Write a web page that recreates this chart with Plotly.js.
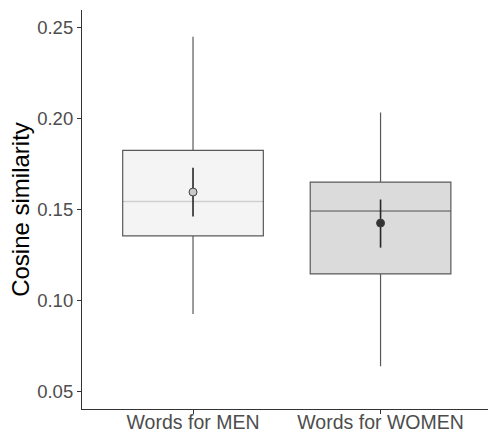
<!DOCTYPE html>
<html>
<head>
<meta charset="utf-8">
<script src="https://cdn.plot.ly/plotly-3.0.1.min.js"></script>
<style>html,body{margin:0;padding:0;background:#fff}#chart{width:488px;height:430px}</style>
</head>
<body>
<div id="chart"></div>
<script>
const categories = ["Words for MEN", "Words for WOMEN"];
const lowerWhisker = [0.0924, 0.0637];
const q1 = [0.1355, 0.1145];
const median = [0.1544, 0.1491];
const q3 = [0.1826, 0.1651];
const upperWhisker = [0.2452, 0.2034];
const meanVal = [0.1596, 0.1425];
const ciLow = [0.1461, 0.1290];
const ciHigh = [0.1730, 0.1555];
const yTicks = [0.05, 0.10, 0.15, 0.20, 0.25];

const boxFill = ["#f4f4f4", "#dbdbdb"];
const medianColor = ["#cfcfcf", "#9a9a9a"];
const meanFill = ["#c9c9c9", "#333333"];
const boxWidth = 0.75;

const traces = [];
categories.forEach((c, i) => {
  traces.push({
    type: "box", x: [i], q1: [q1[i]], median: [median[i]], q3: [q3[i]],
    lowerfence: [lowerWhisker[i]], upperfence: [upperWhisker[i]],
    width: boxWidth, whiskerwidth: 0, boxpoints: false,
    fillcolor: boxFill[i], line: {color: "#595959", width: 1.2},
    hoverinfo: "skip", showlegend: false
  });
});
categories.forEach((c, i) => {
  traces.push({
    type: "scatter", mode: "lines",
    x: [i - boxWidth / 2 + 0.004, i + boxWidth / 2 - 0.004], y: [median[i], median[i]],
    line: {color: medianColor[i], width: 1.4}, hoverinfo: "skip", showlegend: false
  });
});
categories.forEach((c, i) => {
  traces.push({
    type: "scatter", mode: "markers", x: [i], y: [meanVal[i]],
    error_y: {type: "data", symmetric: false, array: [ciHigh[i] - meanVal[i]], arrayminus: [meanVal[i] - ciLow[i]],
      width: 0, thickness: 1.6, color: "#262626"},
    marker: {size: 8, color: meanFill[i], line: {color: "#404040", width: 1}},
    hoverinfo: "skip", showlegend: false
  });
});

const layout = {
  width: 488, height: 430,
  margin: {l: 82, r: 0, t: 10, b: 21},
  paper_bgcolor: "#fff", plot_bgcolor: "#fff",
  font: {family: "Liberation Sans, Arial, sans-serif"},
  xaxis: {
    range: [-0.592, 1.573], tickvals: [0, 1], ticktext: categories,
    showgrid: false, zeroline: false, showline: true, linecolor: "#333", linewidth: 1.1,
    ticks: "outside", ticklen: 4, tickcolor: "#333", tickwidth: 1,
    ticklabelstandoff: -9,
    tickfont: {size: 19.5, color: "#4d4d4d"}
  },
  yaxis: {
    range: [0.0401, 0.2599], tickvals: yTicks, ticktext: yTicks.map(v => v.toFixed(2)),
    showgrid: false, zeroline: false, showline: true, linecolor: "#333", linewidth: 1.1,
    ticks: "outside", ticklen: 4, tickcolor: "#333", tickwidth: 1,
    tickfont: {size: 18.5, color: "#4d4d4d"},
    title: {text: "Cosine similarity", font: {size: 24, color: "#000"}, standoff: 0}
  }
};
Plotly.newPlot("chart", traces, layout, {displayModeBar: false, staticPlot: true});
</script>
</body>
</html>
